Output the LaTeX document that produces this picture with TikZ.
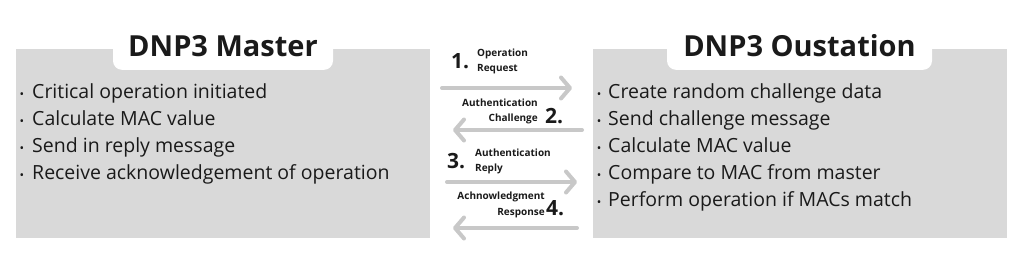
\documentclass[tikz,border=0pt]{standalone}
\usepackage{fontspec}
\setmainfont{Open Sans}
\usetikzlibrary{arrows.meta}
\definecolor{boxgray}{HTML}{D9D9D9}
\definecolor{arrowgray}{HTML}{C8C8C8}
\definecolor{txt}{HTML}{1A1A1A}
\tikzset{
  panel/.style={fill=boxgray, draw=none, anchor=north west, minimum width=414pt, minimum height=189pt, inner sep=0pt},
  tab/.style={fill=white, draw=none, rounded corners=9pt, anchor=south, minimum height=46pt, inner sep=0pt},
  title/.style={font=\fontsize{29}{32}\selectfont\bfseries, text=txt, anchor=base, inner sep=0pt},
  item/.style={font=\fontsize{19.5}{22}\selectfont, text=txt, anchor=base west, inner sep=0pt},
  bul/.style={font=\fontsize{12}{14}\selectfont, text=txt, anchor=base, inner sep=0pt},
  num/.style={font=\fontsize{21}{24}\selectfont\bfseries, text=txt, inner sep=0pt},
  lab/.style={font=\fontsize{10}{12}\selectfont\bfseries, text=txt, inner sep=0pt, text height=7.5pt, text depth=2pt},
  flow/.style={draw=arrowgray, line width=4pt, line cap=round, -{Straight Barb[length=9pt, width=21pt, round]}},
}
\begin{document}
\begin{tikzpicture}[x=1pt, y=-1pt]
\useasboundingbox (0,0) rectangle (1024,258);
\fill[white] (0,0) rectangle (1024,258);

% panels
\node[panel] (master) at (16,49) {};
\node[panel] (outst) at (593,49) {};
\node[tab, minimum width=220pt] (mtab) at (223,70) {};
\node[tab, minimum width=265pt] (otab) at (799.5,70) {};
\node[title] (mtitle) at (223,56) {DNP3 Master};
\node[title] (otitle) at (799.5,56) {DNP3 Oustation};

% master items
\foreach \t [count=\i] in {Critical operation initiated, Calculate MAC value, Send in reply message, Receive acknowledgement of operation}{
  \node[bul] (mb\i) at (22,98+27*\i-27) {•};
  \node[item] (mi\i) at (32,98+27*\i-27) {\t};
}
% outstation items
\foreach \t [count=\i] in {Create random challenge data, Send challenge message, Calculate MAC value, Compare to MAC from master, Perform operation if MACs match}{
  \node[bul] (ob\i) at (599,98+27*\i-27) {•};
  \node[item] (oi\i) at (608,98+27*\i-27) {\t};
}

% arrows
\coordinate (a1s) at (442,88);  \coordinate (a1e) at (572,88);
\coordinate (a2s) at (582,130); \coordinate (a2e) at (453,130);
\coordinate (a3s) at (447,182); \coordinate (a3e) at (577,182);
\coordinate (a4s) at (577,228); \coordinate (a4e) at (453,228);
\draw[flow] (a1s) -- (a1e);
\draw[flow] (a2s) -- (a2e);
\draw[flow] (a3s) -- (a3e);
\draw[flow] (a4s) -- (a4e);

% labels
\node[num, anchor=base west] (n1) at (451,68) {1.};
\node[lab, anchor=base west] (l1a) at (477,56.5) {Operation};
\node[lab, anchor=base west] (l1b) at (477,71) {Request};

\node[lab, anchor=base east] (l2a) at (538,106.5) {Authentication};
\node[lab, anchor=base east] (l2b) at (538,121) {Challenge};
\node[num, anchor=base west] (n2) at (545,123) {2.};

\node[num, anchor=base west] (n3) at (447,168) {3.};
\node[lab, anchor=base west] (l3a) at (475,156.5) {Authentication};
\node[lab, anchor=base west] (l3b) at (475,171) {Reply};

\node[lab, anchor=base east] (l4a) at (545,199.5) {Achnowledgment};
\node[lab, anchor=base east] (l4b) at (545,215) {Response};
\node[num, anchor=base west] (n4) at (546,215) {4.};
\end{tikzpicture}
\end{document}
